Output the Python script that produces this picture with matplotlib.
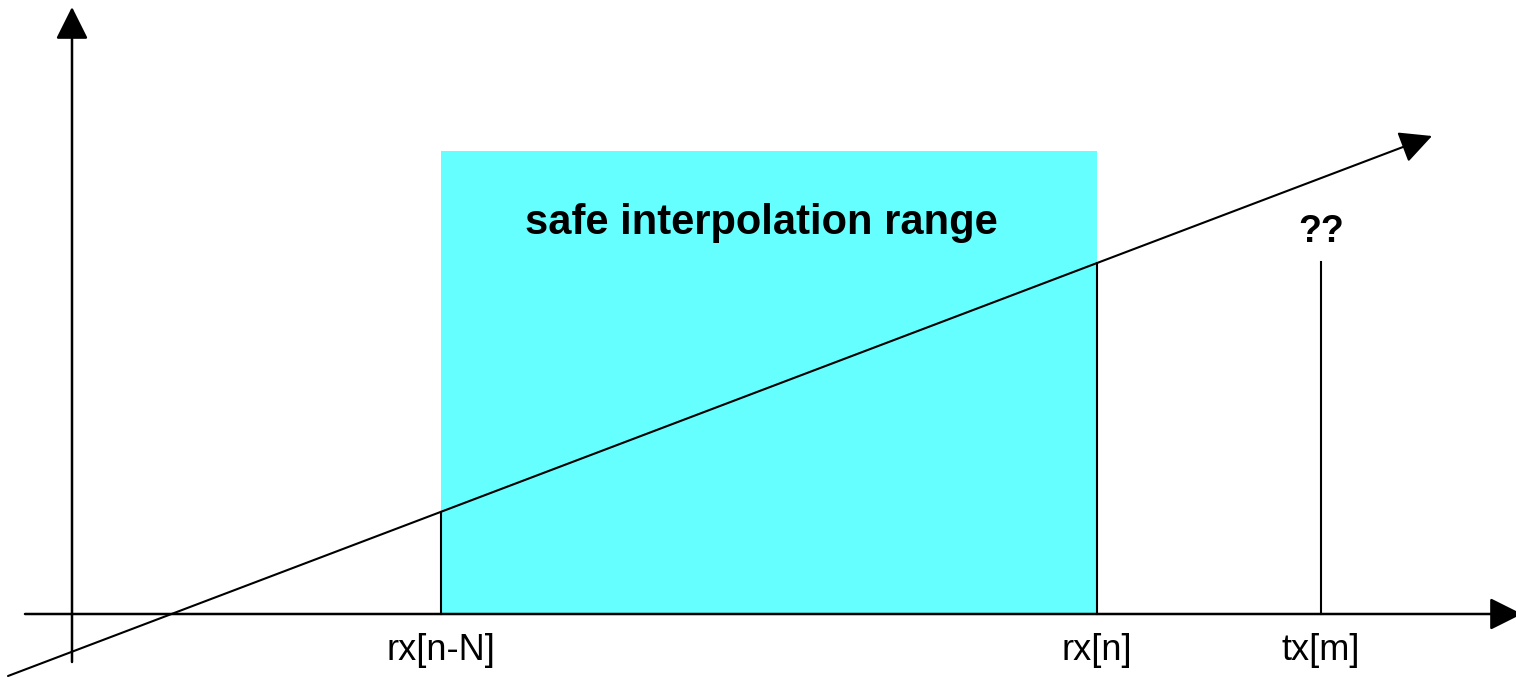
import matplotlib.pyplot as plt
from matplotlib.patches import Rectangle

# diagram coordinates (pixel-like units, y grows downward)
tick_labels = ["rx[n-N]", "rx[n]", "tx[m]"]
tick_x = [441, 1097, 1321]
range_left = 441
range_right = 1097
range_top = 151
baseline_y = 614
line_start = (8, 676)
line_end = (1432, 136)
query_top = 262

plt.rcParams["font.family"] = ["Liberation Sans", "DejaVu Sans"]

fig = plt.figure(figsize=(15.16, 6.78), dpi=100)
ax = fig.add_axes([0, 0, 1, 1])
ax.set_xlim(0, 1516)
ax.set_ylim(678, 0)
ax.axis("off")

# safe interpolation range
ax.add_patch(Rectangle((range_left, range_top), range_right - range_left,
                       baseline_y - range_top, facecolor="#66FFFF", edgecolor="none", zorder=1))
ax.text((range_left + range_right) / 2 - 8, 223, "safe interpolation range",
        fontsize=30, fontweight="bold", ha="center", va="center", zorder=5)

arrow = dict(arrowstyle="-|>,head_length=1.0,head_width=0.5", color="black",
             lw=1.8, shrinkA=0, shrinkB=0, mutation_scale=20)

# axes
ax.annotate("", xy=(1522, baseline_y), xytext=(25, baseline_y), arrowprops=arrow,
            zorder=3, annotation_clip=False)
ax.annotate("", xy=(72, 7), xytext=(72, 662), arrowprops=arrow, zorder=3,
            annotation_clip=False)

# extrapolation line
slope = (line_end[1] - line_start[1]) / (line_end[0] - line_start[0])
ax.annotate("", xy=line_end, xytext=line_start,
            arrowprops=dict(arrow, lw=1.5), zorder=4, annotation_clip=False)

# vertical markers
for x in tick_x[:2]:
    y_top = line_start[1] + slope * (x - line_start[0])
    ax.plot([x, x], [y_top, baseline_y], color="black", lw=1.5, zorder=3)
ax.plot([tick_x[2], tick_x[2]], [query_top, baseline_y], color="black", lw=1.5, zorder=3)
ax.text(tick_x[2], 232, "??", fontsize=27, fontweight="bold", ha="center", va="center")

for x, lab in zip(tick_x, tick_labels):
    ax.text(x, 651, lab, fontsize=26, ha="center", va="center")

fig.savefig("out.png", dpi=100)
